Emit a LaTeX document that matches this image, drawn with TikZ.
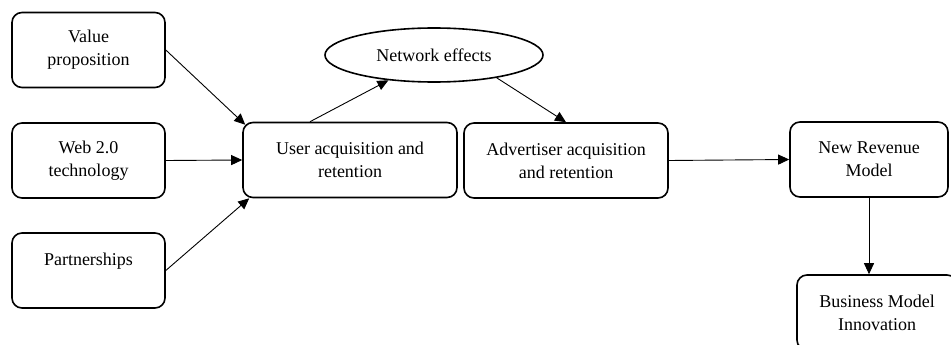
\documentclass[tikz,border=0pt]{standalone}
\usepackage{fontspec}
\setmainfont{Liberation Serif}
\usetikzlibrary{shapes.geometric,arrows.meta}
\begin{document}
\begin{tikzpicture}
[x=1pt,y=-1pt,%
  boxdecorate/.style={shape=rectangle,rounded corners=10pt,draw,line width=1.6pt,
    minimum height=75pt,inner sep=2pt,align=center,font=\fontsize{18}{23}\selectfont},%
  ovaldecorate/.style={shape=ellipse,draw,line width=1.6pt,minimum width=218pt,
    minimum height=54pt,inner sep=1pt,font=\fontsize{18}{23}\selectfont},%
  linedecorate/.style={-{Triangle[length=11pt,width=10pt]},line width=0.9pt}]
\useasboundingbox (0,0) rectangle (951,345);
\clip (0,0) rectangle (951,345);
%% boxes
\foreach \nodename/\x/\y/\w/\txt in {val/88.5/50/153/{Value\\proposition},
    web/88.5/160.5/153/{Web 2.0\\technology}, prt/88.5/270.5/153/{Partnerships\\\mbox{}},
    usr/350/160/214/{User acquisition and\\retention},
    adv/566/160.5/204/{Advertiser acquisition\\and retention},
    rev/869/159.5/158/{New Revenue\\Model}, bmi/877/312.5/160/{Business Model\\Innovation}} {
  \node (\nodename) at (\x,\y) [boxdecorate,minimum width=\w pt] {\txt};
}
\node (net) at (434,55) [ovaldecorate] {Network effects};
%% arrows
\draw[linedecorate] (val.east) -- ([xshift=3pt,yshift=-3pt]usr.north west);
\draw[linedecorate] (web.east) -- (usr.west);
\draw[linedecorate] (prt.east) -- ([xshift=7pt]usr.south west);
\draw[linedecorate] ([xshift=-40pt]usr.north) -- (net.209);
\draw[linedecorate] (net.340) -- (adv.north);
\draw[linedecorate] (adv.east) -- (rev.west);
\draw[linedecorate] (rev.south) -- (rev.south |- bmi.north);
\end{tikzpicture}
\end{document}
